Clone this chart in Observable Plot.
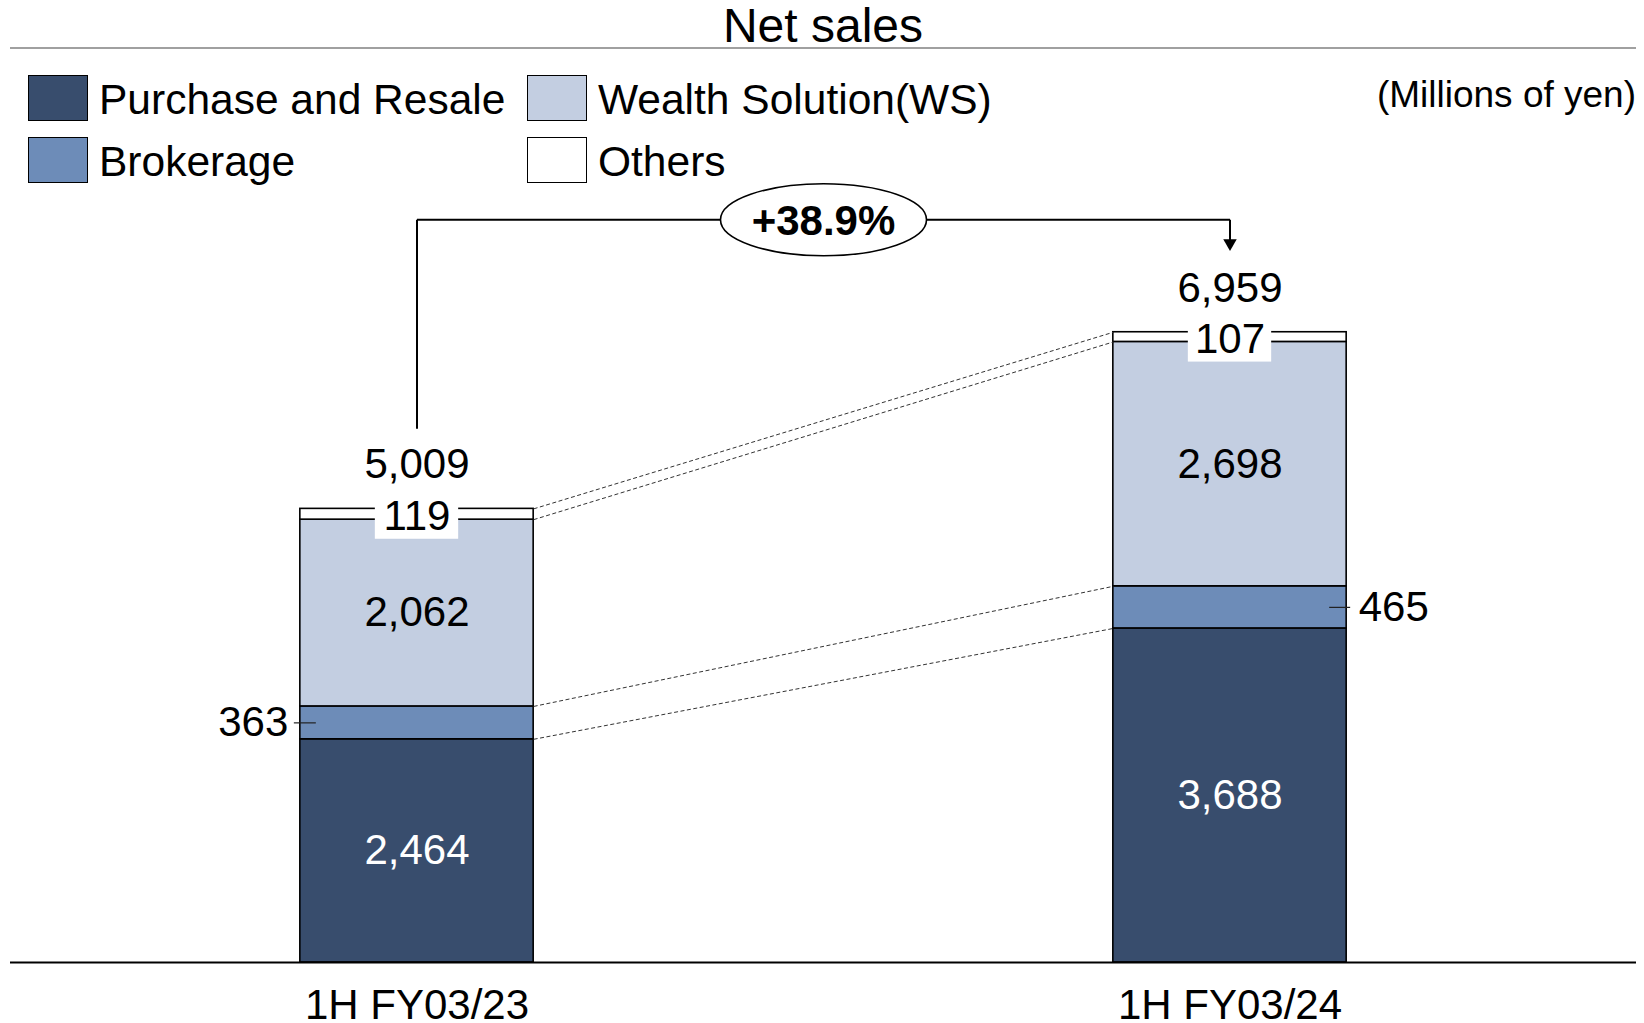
<!DOCTYPE html>
<html>
<head>
<meta charset="utf-8">
<script src="https://cdn.jsdelivr.net/npm/d3@7"></script>
<script src="https://cdn.jsdelivr.net/npm/@observablehq/plot@0.6"></script>
<style>
  html, body { margin: 0; padding: 0; background: #fff; }
  body { width: 1644px; height: 1023px; position: relative; overflow: hidden;
         font-family: "Liberation Sans", Arial, sans-serif; color: #000; }
  .abs { position: absolute; white-space: nowrap; }
  #title { left: 0; width: 1646px; top: 1px; line-height: 50px; font-size: 48px; text-align: center; }
  #rule { left: 10px; width: 1626px; top: 47px; height: 2px; background: #a0a0a0; }
  .sw { position: absolute; width: 60px; height: 46px; box-sizing: border-box; border: 1.5px solid #000; }
  .lt { position: absolute; font-size: 42.5px; line-height: 46px; white-space: nowrap; }
  #unit { right: 8px; top: 75px; line-height: 40px; font-size: 37px; }
  #chart { position: absolute; left: 0; top: 170px; }
</style>
</head>
<body>
<div id="title" class="abs"></div>
<div id="rule" class="abs"></div>
<div id="legend"></div>
<div id="unit" class="abs"></div>
<div id="chart"></div>
<script>
// ---- data ----
const titleText = "Net sales";
const unitText = "(Millions of yen)";
const periods = ["1H FY03/23", "1H FY03/24"];
const segments = ["Purchase and Resale", "Brokerage", "Wealth Solution(WS)", "Others"];
const purchaseResale = [2464, 3688];
const brokerage = [363, 465];
const wealthSolution = [2062, 2698];
const others = [119, 107];
const totals = [5009, 6959];
const growthLabel = "+38.9%";
const segmentColors = ["#384d6d", "#6d8cb8", "#c3cee1", "#ffffff"];

// ---- header (HTML) ----
document.getElementById("title").textContent = titleText;
document.getElementById("unit").textContent = unitText;
const legendPos = [
  {left: 28, top: 75}, {left: 28, top: 137}, {left: 527, top: 75}, {left: 527, top: 137}
];
const legendEl = document.getElementById("legend");
segments.forEach((s, k) => {
  const p = legendPos[k];
  const sw = document.createElement("div");
  sw.className = "sw";
  sw.style.left = p.left + "px"; sw.style.top = p.top + "px";
  sw.style.background = segmentColors[k];
  legendEl.appendChild(sw);
  const t = document.createElement("div");
  t.className = "lt";
  t.style.left = (p.left + 71) + "px"; t.style.top = (p.top + 2) + "px";
  t.textContent = s;
  legendEl.appendChild(t);
});

// ---- table built from arrays ----
const seriesValues = [purchaseResale, brokerage, wealthSolution, others];
const rows = [];
const cum = periods.map(() => []);
periods.forEach((p, i) => {
  let base = 0;
  segments.forEach((s, k) => {
    const v = seriesValues[k][i];
    rows.push({i, period: p, segment: s, k, value: v, y1: base, y2: base + v, mid: base + v / 2});
    base += v;
    cum[i].push(base);
  });
});
const totalRows = periods.map((p, i) => ({i, total: totals[i]}));
const connectors = segments.map((s, k) => ({from: 0, to: 1, a: cum[0][k], b: cum[1][k]}));
const growth = [{from: 0, to: 1, label: growthLabel}];

const hw = 0.1435;            // half bar width (x units)
const bracketY = 8200;        // level of the growth bracket
const fmt = d3.format(",");

const ellipse = {
  draw(ctx) {
    const rx = 103, ry = 36, c = 0.5523;
    ctx.moveTo(rx, 0);
    ctx.bezierCurveTo(rx, ry * c, rx * c, ry, 0, ry);
    ctx.bezierCurveTo(-rx * c, ry, -rx, ry * c, -rx, 0);
    ctx.bezierCurveTo(-rx, -ry * c, -rx * c, -ry, 0, -ry);
    ctx.bezierCurveTo(rx * c, -ry, rx, -ry * c, rx, 0);
    ctx.closePath();
  }
};

const inner = rows.filter(d => d.k === 0 || d.k === 2);
const brk = rows.filter(d => d.k === 1);
const oth = rows.filter(d => d.k === 3);

const chart = Plot.plot({
  width: 1644,
  height: 853,
  marginLeft: 10,
  marginRight: 8,
  marginTop: 13,
  marginBottom: 61,
  x: {type: "linear", domain: [-0.5, 1.5], axis: null},
  y: {domain: [0, 8600], axis: null},
  color: {domain: segments, range: segmentColors},
  style: {fontFamily: "'Liberation Sans', Arial, sans-serif", fontSize: "42px", background: "transparent", overflow: "visible", color: "#000"},
  marks: [
    Plot.rect(rows, {x1: d => d.i - hw, x2: d => d.i + hw, y1: "y1", y2: "y2", fill: "segment", stroke: "#000", strokeWidth: 1.6}),
    Plot.ruleY([0], {stroke: "#000", strokeWidth: 2}),
    Plot.link(connectors, {x1: d => d.from + hw, x2: d => d.to - hw, y1: "a", y2: "b",
      stroke: "#333", strokeWidth: 1, strokeDasharray: "4,2.5"}),
    Plot.rect(oth, {x1: d => d.i - hw, x2: d => d.i + hw, y1: "mid", y2: "mid",
      insetLeft: 75, insetRight: 75, insetTop: -22, insetBottom: -25, fill: "#fff"}),
    Plot.text(inner.filter(d => d.k === 0), {x: "i", y: "mid", text: d => fmt(d.value), fill: "#fff", lineAnchor: "middle", fontSize: 42}),
    Plot.text(inner.filter(d => d.k === 2), {x: "i", y: "mid", text: d => fmt(d.value), fill: "#000", lineAnchor: "middle", fontSize: 42}),
    Plot.text(oth, {x: "i", y: "mid", text: d => fmt(d.value), fill: "#000", lineAnchor: "middle", fontSize: 42, dy: 2}),
    // brokerage callouts
    Plot.ruleY(brk.filter(d => d.i === 0), {y: "mid", x1: d => d.i - hw, x2: d => d.i - hw, insetLeft: -6, insetRight: -16, stroke: "#222", strokeWidth: 1.2}),
    Plot.text(brk.filter(d => d.i === 0), {x: d => d.i - hw, y: "mid", text: d => fmt(d.value), textAnchor: "end", dx: -12, lineAnchor: "middle", fontSize: 42}),
    Plot.ruleY(brk.filter(d => d.i === 1), {y: "mid", x1: d => d.i + hw, x2: d => d.i + hw, insetLeft: -17, insetRight: -4, stroke: "#222", strokeWidth: 1.2}),
    Plot.text(brk.filter(d => d.i === 1), {x: d => d.i + hw, y: "mid", text: d => fmt(d.value), textAnchor: "start", dx: 12, lineAnchor: "middle", fontSize: 42}),
    // totals
    Plot.text(totalRows, {x: "i", y: "total", text: d => fmt(d.total), dy: -44, lineAnchor: "middle", fontSize: 42}),
    // growth bracket
    Plot.arrow(growth, {x1: "from", x2: "from", y1: () => totals[0], y2: () => bracketY, insetStart: 80,
      headLength: 0, stroke: "#000", strokeWidth: 2, strokeLinecap: "butt"}),
    Plot.link(growth, {x1: "from", x2: "to", y1: () => bracketY, y2: () => bracketY, stroke: "#000", strokeWidth: 2}),
    Plot.arrow(growth, {x1: "to", x2: "to", y1: () => bracketY, y2: () => totals[1], insetEnd: 88,
      headLength: 0, stroke: "#000", strokeWidth: 2, strokeLinecap: "butt"}),
    Plot.dot(growth, {x: "to", y: () => totals[1], dy: -89, symbol: "triangle", rotate: 180, r: 5, fill: "#000", stroke: "none"}),
    Plot.dot(growth, {x: d => (d.from + d.to) / 2, y: () => bracketY, symbol: ellipse, r: 10, fill: "#fff", stroke: "#000", strokeWidth: 1.6}),
    Plot.text(growth, {x: d => (d.from + d.to) / 2, y: () => bracketY, text: "label", fontWeight: "bold", fontSize: 42, lineAnchor: "middle", dy: 2}),
    // category axis
    Plot.axisX(periods.map((p, i) => i), {tickFormat: i => periods[i], tickSize: 0, tickPadding: 27, fontSize: 42, label: null})
  ]
});
document.getElementById("chart").appendChild(chart);
</script>
</body>
</html>
